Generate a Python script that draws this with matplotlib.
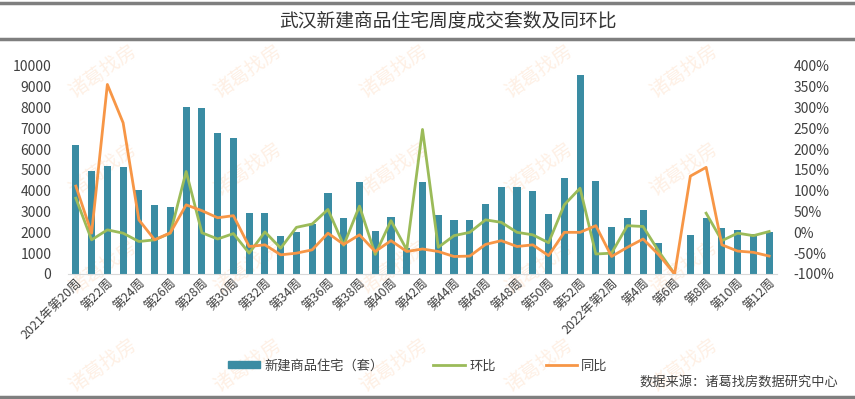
import matplotlib
matplotlib.use('Agg')
import matplotlib.pyplot as plt
import matplotlib.lines as mlines
import matplotlib.patches as mpatches
import numpy as np

plt.rcParams['font.family'] = ['Noto Sans CJK SC', 'DejaVu Sans']

title = '武汉新建商品住宅周度成交套数及同环比'
source = '数据来源：诸葛找房数据研究中心'

weeks = ['2021年第20周'] + ['第%d周' % w for w in range(21, 53)] + \
        ['2022年第1周', '2022年第2周'] + ['第%d周' % w for w in range(3, 13)]

# 新建商品住宅（套）
sales = [6200, 4950, 5200, 5150, 4050, 3330, 3220, 8030, 7980, 6750,
         6550, 2910, 2940, 1810, 2020, 2400, 3890, 2670, 4430, 2080,
         2720, 1230, 4430, 2830, 2590, 2590, 3380, 4160, 4190, 3970,
         2880, 4620, 9550, 4460, 2270, 2670, 3060, 1500, 0, 1860,
         2700, 2190, 2110, 1920, 2000]

# 环比 (%)
mom = [82, -18, 6, -2, -22, -18, -2, 146, -1, -16,
       -3, -50, 1, -38, 12, 20, 55, -31, 63, -53,
       28, -42, 247, -36, -8, 0, 30, 24, 0, -6,
       -25, 66, 106, -52, -50, 16, 14, -46, -100, np.nan,
       46, -20, -2, -8, 2]

# 同比 (%)
yoy = [111, -2, 355, 263, 30, -18, -1, 66, 52, 35,
       40, -34, -30, -54, -50, -42, -2, -29, -6, -46,
       -20, -46, -40, -46, -58, -57, -29, -20, -34, -30,
       -56, 0, 0, 16, -58, -36, -16, -54, -100, 135,
       156, -30, -45, -48, -57]

bar_color = '#3A8CA3'
green = '#9BBB59'
orange = '#F79646'

fig = plt.figure(figsize=(8.55, 3.99), dpi=100)

# watermark layer behind everything
bg = fig.add_axes([0, 0, 1, 1], zorder=-5)
bg.set_xlim(0, 1)
bg.set_ylim(0, 1)
bg.axis('off')
for row, yy in enumerate([0.82, 0.575, 0.33, 0.085]):
    for xx in [0.12, 0.29, 0.46, 0.63, 0.80]:
        bg.text(xx, yy, '诸葛找房', fontsize=14, color='#FEF0E5', rotation=35,
                ha='center', va='center')

# frame lines and title
fig.add_artist(mlines.Line2D([0, 1], [0.992, 0.992], color='#7F7F7F', lw=2.5))
fig.add_artist(mlines.Line2D([0, 1], [0.903, 0.903], color='#7F7F7F', lw=2.5))
fig.add_artist(mlines.Line2D([0, 1], [0.006, 0.006], color='#7F7F7F', lw=2.5))
fig.text(0.524, 0.948, title, ha='center', va='center', fontsize=13.5, color='#333333')

ax = fig.add_axes([0.0795, 0.3133, 0.8293, 0.522])
ax.patch.set_alpha(0)
x = np.arange(len(weeks))
ax.bar(x, sales, width=0.45, color=bar_color, zorder=2)
ax.set_xlim(-0.5, len(weeks) - 0.5)
ax.set_ylim(0, 10000)
ax.set_yticks(range(0, 10001, 1000))
for s in ['top', 'right', 'left']:
    ax.spines[s].set_visible(False)
ax.spines['bottom'].set_color('#D9D9D9')
ax.tick_params(axis='y', length=0, pad=12, labelsize=10, labelcolor='#404040')
ax.tick_params(axis='x', length=0, pad=2, labelsize=9, labelcolor='#404040')
ax.set_xticks(x[::2])
ax.set_xticklabels(weeks[::2], rotation=45, ha='right', rotation_mode='anchor')

ax2 = ax.twinx()
ax2.plot(x, mom, color=green, lw=2, zorder=3)
ax2.plot(x, yoy, color=orange, lw=2, zorder=3)
ax2.set_ylim(-100, 400)
ax2.set_yticks(range(-100, 401, 50))
ax2.set_yticklabels(['%d%%' % v for v in range(-100, 401, 50)])
for s in ['top', 'right', 'left', 'bottom']:
    ax2.spines[s].set_visible(False)
ax2.tick_params(axis='y', length=0, pad=12, labelsize=10, labelcolor='#404040')

handles = [mpatches.Patch(color=bar_color),
           mlines.Line2D([], [], color=green, lw=2),
           mlines.Line2D([], [], color=orange, lw=2)]
labels = ['新建商品住宅（套）', '环比', '同比']
fig.legend(handles, labels, loc='center', bbox_to_anchor=(0.489, 0.083), ncol=3,
           frameon=False, fontsize=9.5, handlelength=2.4, handleheight=0.5,
           columnspacing=3.8, handletextpad=0.3, labelcolor='#404040')

fig.text(0.98, 0.042, source, ha='right', va='center', fontsize=9.5, color='#404040')

fig.savefig('out.png', dpi=100)
